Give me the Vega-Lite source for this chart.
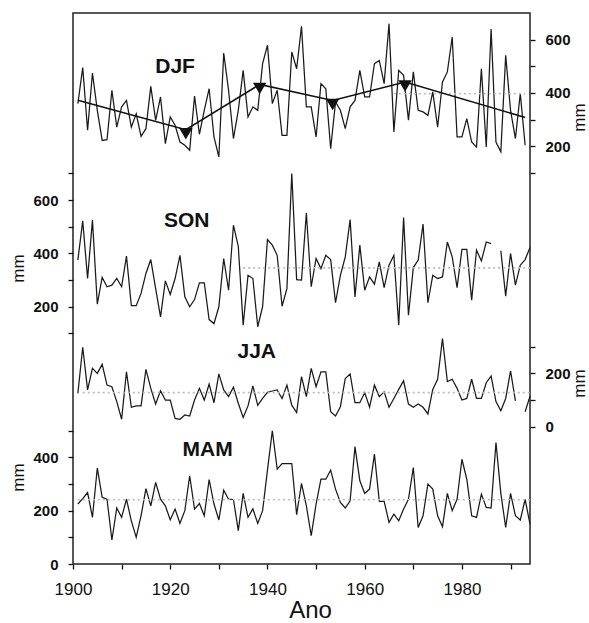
{
"$schema": "https://vega.github.io/schema/vega-lite/v6.json",
"width": 457, "height": 551,
"autosize": {"type": "none"},
"padding": {"left": 73, "top": 13, "right": 59, "bottom": 59},
"background": "white",
"datasets": {
"series": [
{"s":"DJF","year":1901,"mm":360},{"s":"DJF","year":1902,"mm":495},{"s":"DJF","year":1903,"mm":260},{"s":"DJF","year":1904,"mm":475},{"s":"DJF","year":1905,"mm":335},{"s":"DJF","year":1906,"mm":222},{"s":"DJF","year":1907,"mm":225},{"s":"DJF","year":1908,"mm":410},{"s":"DJF","year":1909,"mm":272},{"s":"DJF","year":1910,"mm":348},
{"s":"DJF","year":1911,"mm":372},{"s":"DJF","year":1912,"mm":272},{"s":"DJF","year":1913,"mm":322},{"s":"DJF","year":1914,"mm":237},{"s":"DJF","year":1915,"mm":266},{"s":"DJF","year":1916,"mm":425},{"s":"DJF","year":1917,"mm":297},{"s":"DJF","year":1918,"mm":385},{"s":"DJF","year":1919,"mm":210},{"s":"DJF","year":1920,"mm":310},
{"s":"DJF","year":1921,"mm":279},{"s":"DJF","year":1922,"mm":216},{"s":"DJF","year":1923,"mm":204},{"s":"DJF","year":1924,"mm":185},{"s":"DJF","year":1925,"mm":388},{"s":"DJF","year":1926,"mm":245},{"s":"DJF","year":1927,"mm":335},{"s":"DJF","year":1928,"mm":416},{"s":"DJF","year":1929,"mm":235},{"s":"DJF","year":1930,"mm":160},
{"s":"DJF","year":1931,"mm":550},{"s":"DJF","year":1932,"mm":410},{"s":"DJF","year":1933,"mm":229},{"s":"DJF","year":1934,"mm":335},{"s":"DJF","year":1935,"mm":485},{"s":"DJF","year":1936,"mm":310},{"s":"DJF","year":1937,"mm":348},{"s":"DJF","year":1938,"mm":335},{"s":"DJF","year":1939,"mm":510},{"s":"DJF","year":1940,"mm":579},
{"s":"DJF","year":1941,"mm":360},{"s":"DJF","year":1942,"mm":410},{"s":"DJF","year":1943,"mm":241},{"s":"DJF","year":1944,"mm":241},{"s":"DJF","year":1945,"mm":554},{"s":"DJF","year":1946,"mm":491},{"s":"DJF","year":1947,"mm":650},{"s":"DJF","year":1948,"mm":348},{"s":"DJF","year":1949,"mm":348},{"s":"DJF","year":1950,"mm":235},
{"s":"DJF","year":1951,"mm":435},{"s":"DJF","year":1952,"mm":416},{"s":"DJF","year":1953,"mm":191},{"s":"DJF","year":1954,"mm":366},{"s":"DJF","year":1955,"mm":335},{"s":"DJF","year":1956,"mm":266},{"s":"DJF","year":1957,"mm":348},{"s":"DJF","year":1958,"mm":372},{"s":"DJF","year":1959,"mm":485},{"s":"DJF","year":1960,"mm":385},
{"s":"DJF","year":1961,"mm":385},{"s":"DJF","year":1962,"mm":510},{"s":"DJF","year":1963,"mm":522},{"s":"DJF","year":1964,"mm":435},{"s":"DJF","year":1965,"mm":660},{"s":"DJF","year":1966,"mm":254},{"s":"DJF","year":1967,"mm":485},{"s":"DJF","year":1968,"mm":466},{"s":"DJF","year":1969,"mm":298},{"s":"DJF","year":1970,"mm":479},
{"s":"DJF","year":1971,"mm":335},{"s":"DJF","year":1972,"mm":329},{"s":"DJF","year":1973,"mm":316},{"s":"DJF","year":1974,"mm":404},{"s":"DJF","year":1975,"mm":272},{"s":"DJF","year":1976,"mm":441},{"s":"DJF","year":1977,"mm":479},{"s":"DJF","year":1978,"mm":610},{"s":"DJF","year":1979,"mm":235},{"s":"DJF","year":1980,"mm":235},
{"s":"DJF","year":1981,"mm":304},{"s":"DJF","year":1982,"mm":216},{"s":"DJF","year":1983,"mm":197},{"s":"DJF","year":1984,"mm":491},{"s":"DJF","year":1985,"mm":197},{"s":"DJF","year":1986,"mm":640},{"s":"DJF","year":1987,"mm":216},{"s":"DJF","year":1988,"mm":179},{"s":"DJF","year":1989,"mm":541},{"s":"DJF","year":1990,"mm":335},
{"s":"DJF","year":1991,"mm":229},{"s":"DJF","year":1992,"mm":398},{"s":"DJF","year":1993,"mm":204},
{"s":"SON","year":1901,"mm":375},{"s":"SON","year":1902,"mm":522},{"s":"SON","year":1903,"mm":306},{"s":"SON","year":1904,"mm":525},{"s":"SON","year":1905,"mm":210},{"s":"SON","year":1906,"mm":310},{"s":"SON","year":1907,"mm":275},{"s":"SON","year":1908,"mm":281},{"s":"SON","year":1909,"mm":306},{"s":"SON","year":1910,"mm":275},
{"s":"SON","year":1911,"mm":390},{"s":"SON","year":1912,"mm":204},{"s":"SON","year":1913,"mm":204},{"s":"SON","year":1914,"mm":250},{"s":"SON","year":1915,"mm":325},{"s":"SON","year":1916,"mm":377},{"s":"SON","year":1917,"mm":268},{"s":"SON","year":1918,"mm":162},{"s":"SON","year":1919,"mm":297},{"s":"SON","year":1920,"mm":246},
{"s":"SON","year":1921,"mm":306},{"s":"SON","year":1922,"mm":393},{"s":"SON","year":1923,"mm":237},{"s":"SON","year":1924,"mm":200},{"s":"SON","year":1925,"mm":227},{"s":"SON","year":1926,"mm":290},{"s":"SON","year":1927,"mm":290},{"s":"SON","year":1928,"mm":152},{"s":"SON","year":1929,"mm":137},{"s":"SON","year":1930,"mm":200},
{"s":"SON","year":1931,"mm":381},{"s":"SON","year":1932,"mm":262},{"s":"SON","year":1933,"mm":506},{"s":"SON","year":1934,"mm":427},{"s":"SON","year":1935,"mm":131},{"s":"SON","year":1936,"mm":318},{"s":"SON","year":1937,"mm":306},{"s":"SON","year":1938,"mm":125},{"s":"SON","year":1939,"mm":200},{"s":"SON","year":1940,"mm":452},
{"s":"SON","year":1941,"mm":431},{"s":"SON","year":1942,"mm":393},{"s":"SON","year":1943,"mm":202},{"s":"SON","year":1944,"mm":268},{"s":"SON","year":1945,"mm":700},{"s":"SON","year":1946,"mm":302},{"s":"SON","year":1947,"mm":300},{"s":"SON","year":1948,"mm":552},{"s":"SON","year":1949,"mm":275},{"s":"SON","year":1950,"mm":381},
{"s":"SON","year":1951,"mm":343},{"s":"SON","year":1952,"mm":393},{"s":"SON","year":1953,"mm":377},{"s":"SON","year":1954,"mm":215},{"s":"SON","year":1955,"mm":318},{"s":"SON","year":1956,"mm":387},{"s":"SON","year":1957,"mm":527},{"s":"SON","year":1958,"mm":237},{"s":"SON","year":1959,"mm":431},{"s":"SON","year":1960,"mm":262},
{"s":"SON","year":1961,"mm":312},{"s":"SON","year":1962,"mm":285},{"s":"SON","year":1963,"mm":368},{"s":"SON","year":1964,"mm":272},{"s":"SON","year":1965,"mm":356},{"s":"SON","year":1966,"mm":393},{"s":"SON","year":1967,"mm":131},{"s":"SON","year":1968,"mm":535},{"s":"SON","year":1969,"mm":168},{"s":"SON","year":1970,"mm":347},
{"s":"SON","year":1971,"mm":375},{"s":"SON","year":1972,"mm":510},{"s":"SON","year":1973,"mm":215},{"s":"SON","year":1974,"mm":318},{"s":"SON","year":1975,"mm":306},{"s":"SON","year":1976,"mm":312},{"s":"SON","year":1977,"mm":443},{"s":"SON","year":1978,"mm":387},{"s":"SON","year":1979,"mm":272},{"s":"SON","year":1980,"mm":415},
{"s":"SON","year":1981,"mm":415},{"s":"SON","year":1982,"mm":225},{"s":"SON","year":1983,"mm":412},{"s":"SON","year":1984,"mm":372},{"s":"SON","year":1985,"mm":443},{"s":"SON","year":1986,"mm":437},{"s":"SON","year":1987,"mm":null},{"s":"SON","year":1988,"mm":410},{"s":"SON","year":1989,"mm":240},{"s":"SON","year":1990,"mm":400},
{"s":"SON","year":1991,"mm":281},{"s":"SON","year":1992,"mm":356},{"s":"SON","year":1993,"mm":377},{"s":"SON","year":1994,"mm":422},
{"s":"JJA","year":1901,"mm":125},{"s":"JJA","year":1902,"mm":298},{"s":"JJA","year":1903,"mm":138},{"s":"JJA","year":1904,"mm":219},{"s":"JJA","year":1905,"mm":200},{"s":"JJA","year":1906,"mm":234},{"s":"JJA","year":1907,"mm":156},{"s":"JJA","year":1908,"mm":150},{"s":"JJA","year":1909,"mm":94},{"s":"JJA","year":1910,"mm":28},
{"s":"JJA","year":1911,"mm":206},{"s":"JJA","year":1912,"mm":73},{"s":"JJA","year":1913,"mm":78},{"s":"JJA","year":1914,"mm":78},{"s":"JJA","year":1915,"mm":215},{"s":"JJA","year":1916,"mm":144},{"s":"JJA","year":1917,"mm":85},{"s":"JJA","year":1918,"mm":135},{"s":"JJA","year":1919,"mm":100},{"s":"JJA","year":1920,"mm":100},
{"s":"JJA","year":1921,"mm":31},{"s":"JJA","year":1922,"mm":28},{"s":"JJA","year":1923,"mm":44},{"s":"JJA","year":1924,"mm":40},{"s":"JJA","year":1925,"mm":100},{"s":"JJA","year":1926,"mm":144},{"s":"JJA","year":1927,"mm":100},{"s":"JJA","year":1928,"mm":160},{"s":"JJA","year":1929,"mm":90},{"s":"JJA","year":1930,"mm":198},
{"s":"JJA","year":1931,"mm":138},{"s":"JJA","year":1932,"mm":113},{"s":"JJA","year":1933,"mm":148},{"s":"JJA","year":1934,"mm":88},{"s":"JJA","year":1935,"mm":35},{"s":"JJA","year":1936,"mm":78},{"s":"JJA","year":1937,"mm":153},{"s":"JJA","year":1938,"mm":80},{"s":"JJA","year":1939,"mm":106},{"s":"JJA","year":1940,"mm":129},
{"s":"JJA","year":1941,"mm":134},{"s":"JJA","year":1942,"mm":138},{"s":"JJA","year":1943,"mm":106},{"s":"JJA","year":1944,"mm":156},{"s":"JJA","year":1945,"mm":81},{"s":"JJA","year":1946,"mm":53},{"s":"JJA","year":1947,"mm":188},{"s":"JJA","year":1948,"mm":113},{"s":"JJA","year":1949,"mm":219},{"s":"JJA","year":1950,"mm":150},
{"s":"JJA","year":1951,"mm":206},{"s":"JJA","year":1952,"mm":206},{"s":"JJA","year":1953,"mm":56},{"s":"JJA","year":1954,"mm":40},{"s":"JJA","year":1955,"mm":75},{"s":"JJA","year":1956,"mm":181},{"s":"JJA","year":1957,"mm":198},{"s":"JJA","year":1958,"mm":90},{"s":"JJA","year":1959,"mm":90},{"s":"JJA","year":1960,"mm":128},
{"s":"JJA","year":1961,"mm":73},{"s":"JJA","year":1962,"mm":156},{"s":"JJA","year":1963,"mm":113},{"s":"JJA","year":1964,"mm":131},{"s":"JJA","year":1965,"mm":73},{"s":"JJA","year":1966,"mm":106},{"s":"JJA","year":1967,"mm":140},{"s":"JJA","year":1968,"mm":172},{"s":"JJA","year":1969,"mm":85},{"s":"JJA","year":1970,"mm":73},
{"s":"JJA","year":1971,"mm":85},{"s":"JJA","year":1972,"mm":73},{"s":"JJA","year":1973,"mm":48},{"s":"JJA","year":1974,"mm":140},{"s":"JJA","year":1975,"mm":178},{"s":"JJA","year":1976,"mm":331},{"s":"JJA","year":1977,"mm":169},{"s":"JJA","year":1978,"mm":178},{"s":"JJA","year":1979,"mm":144},{"s":"JJA","year":1980,"mm":100},
{"s":"JJA","year":1981,"mm":106},{"s":"JJA","year":1982,"mm":178},{"s":"JJA","year":1983,"mm":106},{"s":"JJA","year":1984,"mm":106},{"s":"JJA","year":1985,"mm":165},{"s":"JJA","year":1986,"mm":190},{"s":"JJA","year":1987,"mm":94},{"s":"JJA","year":1988,"mm":60},{"s":"JJA","year":1989,"mm":106},{"s":"JJA","year":1990,"mm":210},
{"s":"JJA","year":1991,"mm":97},{"s":"JJA","year":1992,"mm":null},{"s":"JJA","year":1993,"mm":56},{"s":"JJA","year":1994,"mm":115},
{"s":"MAM","year":1901,"mm":225},{"s":"MAM","year":1902,"mm":245},{"s":"MAM","year":1903,"mm":268},{"s":"MAM","year":1904,"mm":175},{"s":"MAM","year":1905,"mm":360},{"s":"MAM","year":1906,"mm":250},{"s":"MAM","year":1907,"mm":243},{"s":"MAM","year":1908,"mm":90},{"s":"MAM","year":1909,"mm":210},{"s":"MAM","year":1910,"mm":175},
{"s":"MAM","year":1911,"mm":243},{"s":"MAM","year":1912,"mm":162},{"s":"MAM","year":1913,"mm":100},{"s":"MAM","year":1914,"mm":181},{"s":"MAM","year":1915,"mm":283},{"s":"MAM","year":1916,"mm":218},{"s":"MAM","year":1917,"mm":306},{"s":"MAM","year":1918,"mm":243},{"s":"MAM","year":1919,"mm":218},{"s":"MAM","year":1920,"mm":166},
{"s":"MAM","year":1921,"mm":206},{"s":"MAM","year":1922,"mm":152},{"s":"MAM","year":1923,"mm":200},{"s":"MAM","year":1924,"mm":331},{"s":"MAM","year":1925,"mm":206},{"s":"MAM","year":1926,"mm":227},{"s":"MAM","year":1927,"mm":181},{"s":"MAM","year":1928,"mm":317},{"s":"MAM","year":1929,"mm":225},{"s":"MAM","year":1930,"mm":165},
{"s":"MAM","year":1931,"mm":277},{"s":"MAM","year":1932,"mm":243},{"s":"MAM","year":1933,"mm":242},{"s":"MAM","year":1934,"mm":125},{"s":"MAM","year":1935,"mm":265},{"s":"MAM","year":1936,"mm":175},{"s":"MAM","year":1937,"mm":207},{"s":"MAM","year":1938,"mm":152},{"s":"MAM","year":1939,"mm":200},{"s":"MAM","year":1940,"mm":352},
{"s":"MAM","year":1941,"mm":500},{"s":"MAM","year":1942,"mm":356},{"s":"MAM","year":1943,"mm":377},{"s":"MAM","year":1944,"mm":377},{"s":"MAM","year":1945,"mm":377},{"s":"MAM","year":1946,"mm":185},{"s":"MAM","year":1947,"mm":302},{"s":"MAM","year":1948,"mm":218},{"s":"MAM","year":1949,"mm":106},{"s":"MAM","year":1950,"mm":225},
{"s":"MAM","year":1951,"mm":318},{"s":"MAM","year":1952,"mm":318},{"s":"MAM","year":1953,"mm":352},{"s":"MAM","year":1954,"mm":281},{"s":"MAM","year":1955,"mm":231},{"s":"MAM","year":1956,"mm":210},{"s":"MAM","year":1957,"mm":237},{"s":"MAM","year":1958,"mm":440},{"s":"MAM","year":1959,"mm":312},{"s":"MAM","year":1960,"mm":265},
{"s":"MAM","year":1961,"mm":281},{"s":"MAM","year":1962,"mm":412},{"s":"MAM","year":1963,"mm":235},{"s":"MAM","year":1964,"mm":235},{"s":"MAM","year":1965,"mm":156},{"s":"MAM","year":1966,"mm":187},{"s":"MAM","year":1967,"mm":162},{"s":"MAM","year":1968,"mm":206},{"s":"MAM","year":1969,"mm":243},{"s":"MAM","year":1970,"mm":362},
{"s":"MAM","year":1971,"mm":137},{"s":"MAM","year":1972,"mm":181},{"s":"MAM","year":1973,"mm":300},{"s":"MAM","year":1974,"mm":281},{"s":"MAM","year":1975,"mm":181},{"s":"MAM","year":1976,"mm":140},{"s":"MAM","year":1977,"mm":265},{"s":"MAM","year":1978,"mm":200},{"s":"MAM","year":1979,"mm":243},{"s":"MAM","year":1980,"mm":393},
{"s":"MAM","year":1981,"mm":318},{"s":"MAM","year":1982,"mm":181},{"s":"MAM","year":1983,"mm":175},{"s":"MAM","year":1984,"mm":262},{"s":"MAM","year":1985,"mm":212},{"s":"MAM","year":1986,"mm":210},{"s":"MAM","year":1987,"mm":456},{"s":"MAM","year":1988,"mm":265},{"s":"MAM","year":1989,"mm":137},{"s":"MAM","year":1990,"mm":265},
{"s":"MAM","year":1991,"mm":181},{"s":"MAM","year":1992,"mm":165},{"s":"MAM","year":1993,"mm":242},{"s":"MAM","year":1994,"mm":150}
],
"trend": [
{"year":1901,"mm":373},{"year":1923.2,"mm":262},{"year":1938.4,"mm":432},{"year":1953.4,"mm":372},{"year":1968.3,"mm":441},{"year":1993,"mm":308}
],
"means": [
{"s":"DJF","year":1966,"year2":1993,"mm":397},
{"s":"SON","year":1935,"year2":1994,"mm":346},
{"s":"JJA","year":1902,"year2":1994,"mm":128},
{"s":"MAM","year":1901,"year2":1994,"mm":241}
],
"labels": [
{"s":"DJF","year":1921,"mm":498},
{"s":"SON","year":1923.4,"mm":522},
{"s":"JJA","year":1937.8,"mm":281},
{"s":"MAM","year":1927.7,"mm":427}
]
},
"config": {
"font": "Liberation Sans",
"view": {"stroke": "#222", "strokeWidth": 1.5},
"axis": {"grid": false, "domain": false, "labelFlush": false, "tickColor": "#111", "tickSize": 5, "tickWidth": 1.3, "labelColor": "#111", "titleColor": "#111", "labelFont": "Liberation Sans", "titleFont": "Liberation Sans"},
"axisY": {"labelFontSize": 15, "labelFontWeight": "bold", "labelPadding": 10, "titleFontSize": 17, "titleFontWeight": "normal", "titleAngle": -90, "titleAlign": "center", "titleBaseline": "middle"},
"line": {"stroke": "#1a1a1a", "strokeWidth": 1.25}
},
"encoding": {
"x": {"field": "year", "type": "quantitative", "scale": {"domain": [1900, 1994], "nice": false, "zero": false},
"axis": {"values": [1900,1910,1920,1930,1940,1950,1960,1970,1980,1990], "format": "d", "labelExpr": "datum.value % 20 === 0 ? datum.label : ''", "labelFontSize": 17, "labelFontWeight": "normal", "labelPadding": 12, "title": "Ano", "titleFontSize": 24, "titleFontWeight": "normal", "titleX": 237, "titleY": 53, "titleBaseline": "alphabetic", "titleAlign": "center"}}
},
"layer": [
{
"layer": [
{"data": {"name": "series"}, "transform": [{"filter": "datum.s === 'DJF'"}], "mark": {"type": "line", "invalid": "break-paths-filter-domains"},
 "encoding": {"y": {"field": "mm", "type": "quantitative", "scale": {"domain": [-1367, 700], "nice": false, "zero": false},
 "axis": {"orient": "right", "values": [100,200,300,400,500,600], "labelExpr": "datum.value % 200 === 0 ? datum.label : ''", "title": "mm", "titleX": 49, "titleY": 104}}}},
{"data": {"name": "means"}, "transform": [{"filter": "datum.s === 'DJF'"}], "mark": {"type": "rule", "stroke": "#bbbbbb", "strokeWidth": 1.6, "strokeDash": [2, 3]},
 "encoding": {"x2": {"field": "year2"}, "y": {"field": "mm", "type": "quantitative"}}},
{"data": {"name": "trend"}, "mark": {"type": "line", "stroke": "#111", "strokeWidth": 1.6},
 "encoding": {"y": {"field": "mm", "type": "quantitative"}}},
{"data": {"name": "trend"}, "transform": [{"filter": "datum.year > 1902 && datum.year < 1992"}], "mark": {"type": "point", "shape": "triangle-down", "filled": true, "color": "#111", "size": 180, "opacity": 1, "yOffset": 4},
 "encoding": {"y": {"field": "mm", "type": "quantitative"}}},
{"data": {"name": "labels"}, "transform": [{"filter": "datum.s === 'DJF'"}], "mark": {"type": "text", "fontSize": 21, "fontWeight": "bold", "color": "#111", "align": "center", "baseline": "middle"},
 "encoding": {"y": {"field": "mm", "type": "quantitative"}, "text": {"field": "s"}}}
]
},
{
"layer": [
{"data": {"name": "series"}, "transform": [{"filter": "datum.s === 'SON'"}], "mark": {"type": "line", "invalid": "break-paths-filter-domains"},
 "encoding": {"y": {"field": "mm", "type": "quantitative", "scale": {"domain": [-765, 1302], "nice": false, "zero": false},
 "axis": {"orient": "left", "values": [100,200,300,400,500,600,700], "labelExpr": "datum.value % 200 === 0 ? datum.label : ''", "title": "mm", "titleX": -55, "titleY": 255}}}},
{"data": {"name": "means"}, "transform": [{"filter": "datum.s === 'SON'"}], "mark": {"type": "rule", "stroke": "#bbbbbb", "strokeWidth": 1.6, "strokeDash": [2, 3]},
 "encoding": {"x2": {"field": "year2"}, "y": {"field": "mm", "type": "quantitative"}}},
{"data": {"name": "labels"}, "transform": [{"filter": "datum.s === 'SON'"}], "mark": {"type": "text", "fontSize": 21, "fontWeight": "bold", "color": "#111", "align": "center", "baseline": "middle"},
 "encoding": {"y": {"field": "mm", "type": "quantitative"}, "text": {"field": "s"}}}
]
},
{
"layer": [
{"data": {"name": "series"}, "transform": [{"filter": "datum.s === 'JJA'"}], "mark": {"type": "line", "invalid": "break-paths-filter-domains"},
 "encoding": {"y": {"field": "mm", "type": "quantitative", "scale": {"domain": [-515, 1552], "nice": false, "zero": false},
 "axis": {"orient": "right", "values": [0,100,200,300], "labelExpr": "datum.value % 200 === 0 ? datum.label : ''", "title": "mm", "titleX": 49, "titleY": 370}}}},
{"data": {"name": "means"}, "transform": [{"filter": "datum.s === 'JJA'"}], "mark": {"type": "rule", "stroke": "#bbbbbb", "strokeWidth": 1.6, "strokeDash": [2, 3]},
 "encoding": {"x2": {"field": "year2"}, "y": {"field": "mm", "type": "quantitative"}}},
{"data": {"name": "labels"}, "transform": [{"filter": "datum.s === 'JJA'"}], "mark": {"type": "text", "fontSize": 21, "fontWeight": "bold", "color": "#111", "align": "center", "baseline": "middle"},
 "encoding": {"y": {"field": "mm", "type": "quantitative"}, "text": {"field": "s"}}}
]
},
{
"layer": [
{"data": {"name": "series"}, "transform": [{"filter": "datum.s === 'MAM'"}], "mark": {"type": "line", "invalid": "break-paths-filter-domains"},
 "encoding": {"y": {"field": "mm", "type": "quantitative", "scale": {"domain": [0, 2067], "nice": false, "zero": false},
 "axis": {"orient": "left", "values": [0,100,200,300,400,500], "labelExpr": "datum.value % 200 === 0 ? datum.label : ''", "title": "mm", "titleX": -55, "titleY": 464}}}},
{"data": {"name": "means"}, "transform": [{"filter": "datum.s === 'MAM'"}], "mark": {"type": "rule", "stroke": "#bbbbbb", "strokeWidth": 1.6, "strokeDash": [2, 3]},
 "encoding": {"x2": {"field": "year2"}, "y": {"field": "mm", "type": "quantitative"}}},
{"data": {"name": "labels"}, "transform": [{"filter": "datum.s === 'MAM'"}], "mark": {"type": "text", "fontSize": 21, "fontWeight": "bold", "color": "#111", "align": "center", "baseline": "middle"},
 "encoding": {"y": {"field": "mm", "type": "quantitative"}, "text": {"field": "s"}}}
]
}
],
"resolve": {"scale": {"y": "independent"}, "axis": {"y": "independent"}}
}
